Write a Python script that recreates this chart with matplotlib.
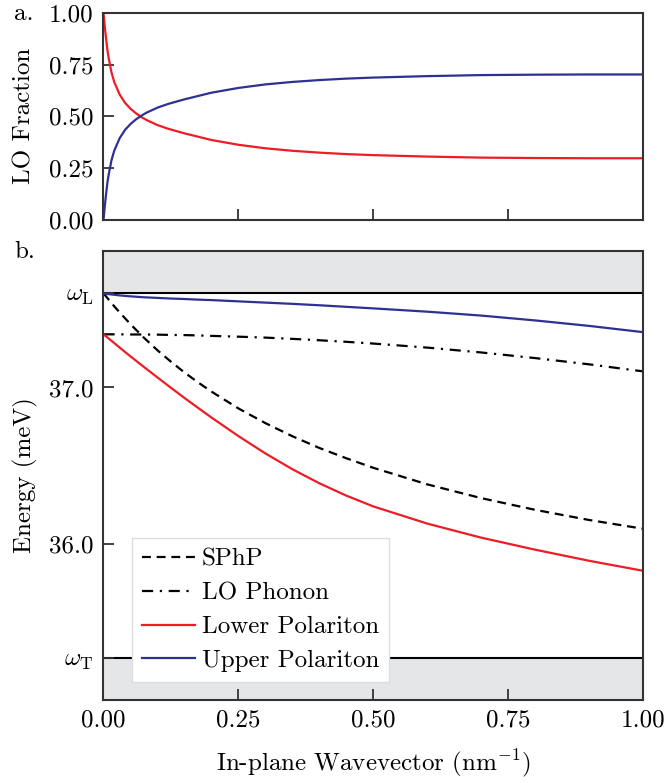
import matplotlib
matplotlib.use("Agg")
import matplotlib.pyplot as plt

#====== data ====================================
k_frac = [0.0, 0.0025, 0.005, 0.0075, 0.01, 0.015, 0.02, 0.03, 0.04, 0.05, 0.06, 0.07,
          0.08, 0.1, 0.12, 0.15, 0.2, 0.25, 0.3, 0.35, 0.4, 0.45, 0.5, 0.6, 0.7, 0.8,
          0.9, 1.0]
lower_frac = [1.0, 0.93, 0.87, 0.815, 0.775, 0.71, 0.665, 0.605, 0.565, 0.537, 0.515, 0.497,
              0.482, 0.458, 0.44, 0.418, 0.386, 0.363, 0.346, 0.334, 0.325, 0.318, 0.313,
              0.306, 0.301, 0.299, 0.298, 0.298]
upper_frac = [0.0, 0.07, 0.13, 0.185, 0.225, 0.29, 0.335, 0.395, 0.435, 0.463, 0.485, 0.503,
              0.518, 0.542, 0.56, 0.582, 0.614, 0.637, 0.654, 0.666, 0.675, 0.682, 0.687,
              0.694, 0.699, 0.701, 0.702, 0.702]

k = [0.0, 0.01, 0.02, 0.03, 0.05, 0.075, 0.1, 0.125, 0.15, 0.175, 0.2, 0.25, 0.3,
     0.35, 0.4, 0.45, 0.5, 0.6, 0.7, 0.8, 0.9, 1.0]
sphp = [37.603, 37.560, 37.519, 37.480, 37.405, 37.318, 37.238, 37.165, 37.096, 37.033,
        36.974, 36.866, 36.772, 36.688, 36.613, 36.547, 36.486, 36.380, 36.292, 36.217,
        36.152, 36.096]
lo_phonon = [37.340, 37.340, 37.340, 37.340, 37.339, 37.339, 37.338, 37.336, 37.335,
             37.333, 37.330, 37.325, 37.319, 37.311, 37.302, 37.292, 37.281, 37.255,
             37.224, 37.188, 37.148, 37.103]
lower_pol = [37.340, 37.312, 37.284, 37.255, 37.199, 37.131, 37.064, 36.998, 36.933,
             36.870, 36.808, 36.689, 36.578, 36.477, 36.387, 36.308, 36.239, 36.129,
             36.039, 35.962, 35.891, 35.827]
upper_pol = [37.601, 37.597, 37.593, 37.589, 37.583, 37.577, 37.573, 37.569, 37.566,
             37.562, 37.559, 37.551, 37.543, 37.535, 37.526, 37.516, 37.506, 37.485,
             37.460, 37.429, 37.394, 37.354]

w_L = 37.603
w_T = 35.27
e_ticks = [36.0, 37.0]
x_ticks = [0.0, 0.25, 0.5, 0.75, 1.0]

#====== style ================
plt.rcParams['font.family'] = 'serif'
plt.rcParams['font.serif'] = ['cmr10', 'DejaVu Serif']
plt.rcParams['mathtext.fontset'] = 'cm'
plt.rcParams['axes.formatter.use_mathtext'] = True
plt.rcParams['font.size'] = 18
plt.rcParams['axes.unicode_minus'] = False

RED = '#ee1c25'
BLUE = '#2e3192'
GRAY = '#e5e6e8'
SPINE = '#333333'
LW = 1.6

fig = plt.figure(figsize=(6.66, 7.83), dpi=100)
ax1 = fig.add_axes([0.1554, 0.719, 0.81, 0.2648])
ax2 = fig.add_axes([0.1554, 0.106, 0.81, 0.5734])

for ax in (ax1, ax2):
    for s in ax.spines.values():
        s.set_color(SPINE)
        s.set_linewidth(1.5)
    ax.tick_params(direction='in', length=8, width=1.3, color=SPINE, pad=7)
    ax.set_xlim(0, 1)
    ax.set_xticks(x_ticks)

#====== panel a ================
ax1.plot(k_frac, lower_frac, color=RED, lw=LW)
ax1.plot(k_frac, upper_frac, color=BLUE, lw=LW)
ax1.set_ylim(0, 1)
ax1.set_yticks([0, 0.25, 0.5, 0.75, 1.0])
ax1.set_yticklabels(['0.00', '0.25', '0.50', '0.75', '1.00'])
ax1.set_xticklabels([])
ax1.set_ylabel('LO Fraction', labelpad=10)

#====== panel b ================
ymin, ymax = w_T - 0.27, w_L + 0.27
ax2.axhspan(w_L, ymax, color=GRAY, lw=0, zorder=0)
ax2.axhspan(ymin, w_T, color=GRAY, lw=0, zorder=0)
ax2.axhline(w_L, color='black', lw=1.5, zorder=1)
ax2.axhline(w_T, color='black', lw=1.5, zorder=1)

ax2.plot(k, sphp, color='black', lw=LW, ls=(0, (4, 2.6)), label='SPhP')
ax2.plot(k, lo_phonon, color='black', lw=LW, ls=(0, (5, 3, 1, 3)), label='LO Phonon')
ax2.plot(k, lower_pol, color=RED, lw=LW, label='Lower Polariton')
ax2.plot(k, upper_pol, color=BLUE, lw=LW, label='Upper Polariton')

ax2.set_ylim(ymin, ymax)
ax2.set_yticks([w_T] + e_ticks + [w_L])
ax2.set_yticklabels([r'$\omega_{\mathrm{T}}$'] + ['%.1f' % e for e in e_ticks] + [r'$\omega_{\mathrm{L}}$'])
ax2.set_xticklabels(['%.2f' % x for x in x_ticks])
ax2.set_ylabel('Energy (meV)', labelpad=8)
ax2.set_xlabel(r'In-plane Wavevector (nm$^{-1}$)', labelpad=11)

leg = ax2.legend(loc='lower left', bbox_to_anchor=(0.053, 0.04), borderaxespad=0,
                 fancybox=False, framealpha=1, edgecolor='#dddddd', handlelength=2.1,
                 handletextpad=0.3, labelspacing=0.45, borderpad=0.4)
leg.get_frame().set_linewidth(1.0)

fig.text(0.021, 0.982, 'a.', ha='left', va='center')
fig.text(0.021, 0.678, 'b.', ha='left', va='center')

fig.savefig('out.png', dpi=100)
